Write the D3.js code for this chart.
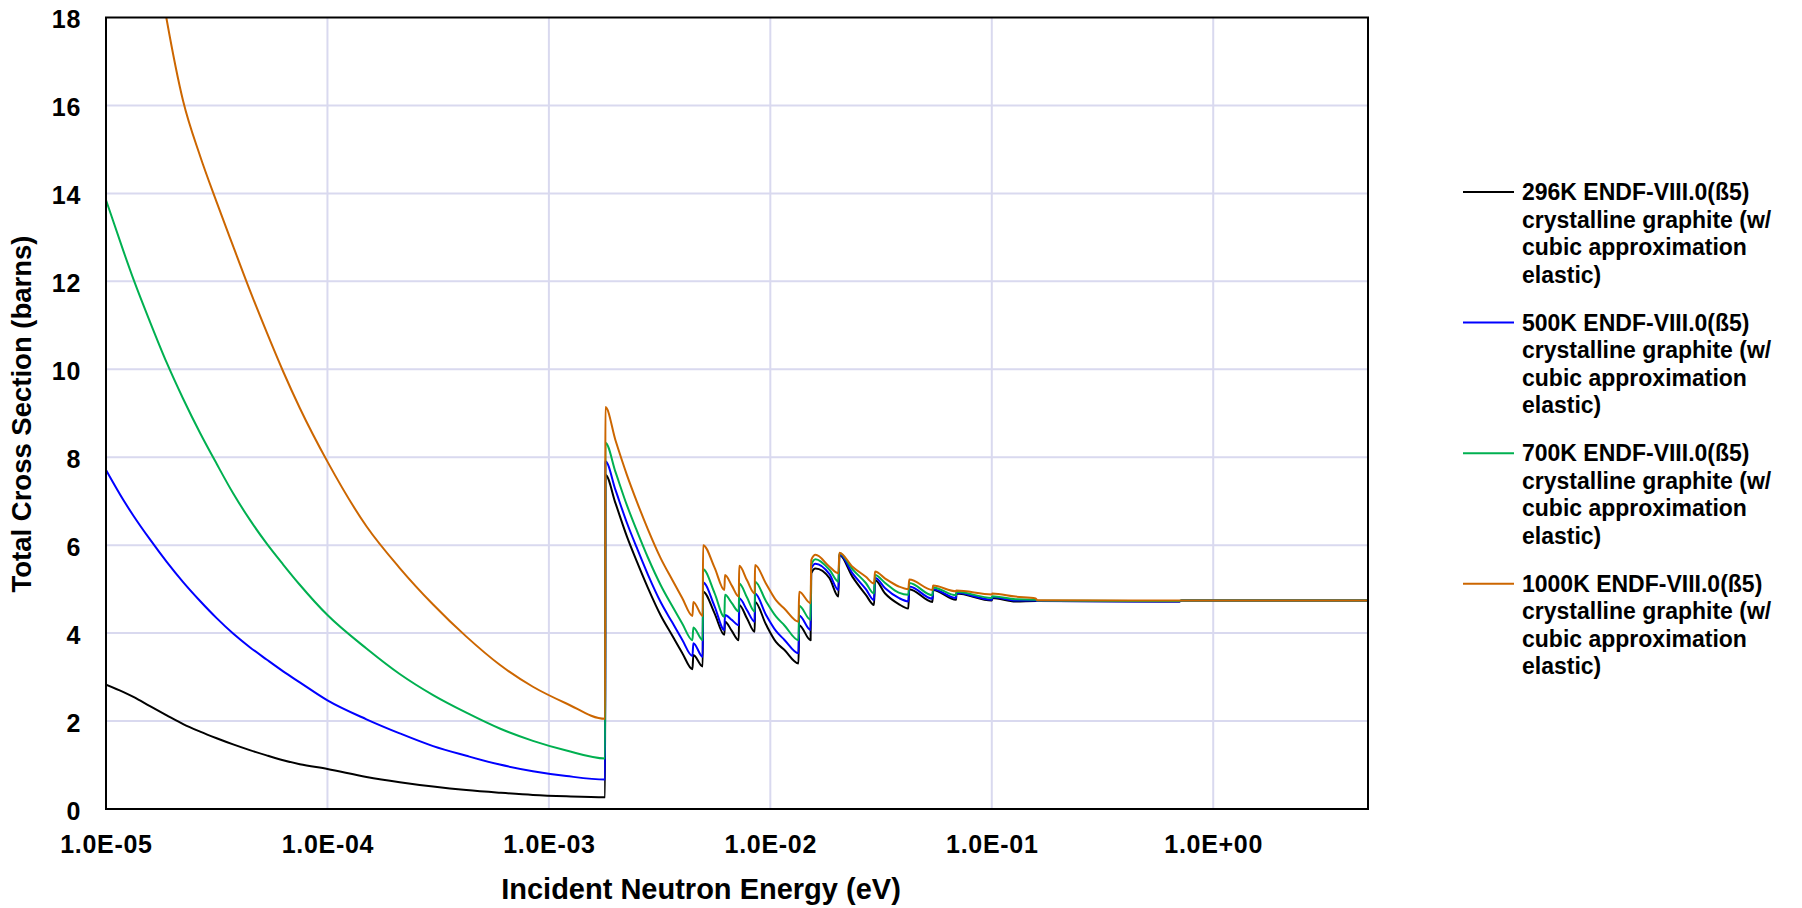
<!DOCTYPE html>
<html>
<head>
<meta charset="utf-8">
<script src="https://cdn.jsdelivr.net/npm/d3@7"></script>
<style>
  body { margin: 0; background: #fff; }
  text { font-family: "Liberation Sans", Arial, sans-serif; font-weight: bold; fill: #000; }
</style>
</head>
<body>
<div id="chart"></div>
<script>

// Energy grid (eV); close pairs are the Bragg edges (near-vertical jumps)
let energy = [
  1.0e-5, 1.2e-5, 1.33e-5, 1.58e-5, 1.88e-5, 2.23e-5, 2.66e-5, 3.16e-5, 3.75e-5, 4.46e-5, 5.31e-5, 6.31e-5, 7.5e-5,
  1.0e-4, 1.5e-4, 2.12e-4, 3.0e-4, 4.24e-4, 6.0e-4, 8.47e-4, 1.2e-3, 1.795e-3,
  1.8e-3, 2.0e-3, 2.25e-3, 2.5e-3, 2.8e-3, 3.2e-3, 3.6e-3, 4.0e-3, 4.45e-3,
  4.49e-3, 4.95e-3, 4.97e-3, 5.6e-3, 6.2e-3, 6.24e-3, 6.7e-3, 7.2e-3, 7.24e-3, 7.85e-3, 8.5e-3, 8.53e-3,
  9.55e-3, 1.06e-2, 1.156e-2, 1.34e-2, 1.35e-2, 1.52e-2, 1.53e-2, 1.6e-2, 1.85e-2, 2.03e-2, 2.05e-2,
  2.35e-2, 2.7e-2, 2.94e-2, 2.97e-2, 3.3e-2, 3.8e-2, 4.2e-2, 4.24e-2, 5.4e-2, 5.43e-2, 6.9e-2, 6.92e-2,
  0.1, 0.1005, 0.128, 0.158, 0.16, 0.7, 0.72, 5.0
];

// Total cross section (barns) for each temperature
let xs296 = [
  2.83, 2.66, 2.55, 2.34, 2.13, 1.93, 1.76, 1.61, 1.47, 1.34, 1.22, 1.11, 1.02,
  0.91, 0.73, 0.61, 0.51, 0.43, 0.37, 0.32, 0.29, 0.27,
  7.60, 6.95, 6.20, 5.62, 5.03, 4.40, 3.95, 3.55, 3.18,
  3.50, 3.24, 4.94, 4.45, 3.96, 4.26, 4.05, 3.84, 4.64, 4.33, 4.03, 4.71,
  4.20, 3.80, 3.62, 3.31, 4.18, 3.84, 5.36, 5.47, 5.25, 4.83, 5.78,
  5.28, 4.87, 4.64, 5.21, 4.90, 4.66, 4.56, 5.00, 4.71, 4.98, 4.76, 4.90,
  4.74, 4.80, 4.72, 4.73, 4.73, 4.72, 4.74, 4.74
];
let xs500 = [
  7.71, 7.02, 6.67, 6.13, 5.62, 5.16, 4.73, 4.34, 3.99, 3.68, 3.40, 3.13, 2.88,
  2.47, 2.04, 1.72, 1.43, 1.21, 1.01, 0.86, 0.75, 0.67,
  7.91, 7.25, 6.51, 5.93, 5.33, 4.70, 4.25, 3.85, 3.48,
  3.77, 3.46, 5.15, 4.61, 4.07, 4.41, 4.30, 4.18, 4.79, 4.52, 4.26, 4.90,
  4.42, 4.05, 3.85, 3.54, 4.40, 4.07, 5.47, 5.58, 5.34, 4.98, 5.80,
  5.36, 5.00, 4.75, 5.26, 5.02, 4.80, 4.72, 5.06, 4.78, 5.00, 4.80, 4.92,
  4.76, 4.82, 4.74, 4.74, 4.73, 4.72, 4.74, 4.74
];
let xs700 = [
  13.85, 12.68, 12.05, 11.08, 10.15, 9.33, 8.55, 7.85, 7.18, 6.58, 6.04, 5.56, 5.10,
  4.41, 3.65, 3.07, 2.59, 2.19, 1.83, 1.55, 1.33, 1.15,
  8.33, 7.66, 6.91, 6.32, 5.72, 5.09, 4.62, 4.22, 3.84,
  4.13, 3.84, 5.45, 4.91, 4.37, 4.87, 4.68, 4.49, 5.13, 4.81, 4.49, 5.17,
  4.73, 4.38, 4.18, 3.84, 4.62, 4.30, 5.55, 5.68, 5.44, 5.17, 5.82,
  5.45, 5.14, 4.90, 5.32, 5.14, 4.92, 4.87, 5.14, 4.86, 5.04, 4.86, 4.94,
  4.80, 4.84, 4.77, 4.76, 4.74, 4.73, 4.74, 4.74
];
let xs1000 = [
  26.5, 23.9, 22.4, 20.3, 17.95, 16.10, 14.85, 13.80, 12.80, 11.80, 10.85, 9.95, 9.12,
  7.90, 6.43, 5.48, 4.65, 3.92, 3.28, 2.78, 2.40, 2.05,
  9.14, 8.38, 7.60, 6.98, 6.36, 5.70, 5.22, 4.80, 4.39,
  4.71, 4.39, 6.00, 5.49, 4.98, 5.32, 5.08, 4.83, 5.53, 5.20, 4.90, 5.55,
  5.13, 4.75, 4.56, 4.26, 4.94, 4.68, 5.66, 5.78, 5.51, 5.36, 5.83,
  5.51, 5.28, 5.13, 5.40, 5.24, 5.06, 5.00, 5.22, 4.98, 5.08, 4.95, 4.97,
  4.88, 4.90, 4.83, 4.79, 4.75, 4.74, 4.74, 4.74
];

let seriesNames = [
  ["296K ENDF-VIII.0(ß5)", "crystalline graphite (w/", "cubic approximation", "elastic)"],
  ["500K ENDF-VIII.0(ß5)", "crystalline graphite (w/", "cubic approximation", "elastic)"],
  ["700K ENDF-VIII.0(ß5)", "crystalline graphite (w/", "cubic approximation", "elastic)"],
  ["1000K ENDF-VIII.0(ß5)", "crystalline graphite (w/", "cubic approximation", "elastic)"]
];
let seriesColors = ["#000000", "#0000ff", "#00b050", "#cc6600"];
let seriesValues = [xs296, xs500, xs700, xs1000];

let xTicks = [1e-5, 1e-4, 1e-3, 1e-2, 1e-1, 1e0];
let yTicks = [0, 2, 4, 6, 8, 10, 12, 14, 16, 18];

// SVG area
let svgWidth = 1802;
let svgHeight = 908;

let chartMargin = {
  top: 17.5,
  right: 434,
  bottom: 99,
  left: 106
};

let chartWidth = svgWidth - chartMargin.left - chartMargin.right;
let chartHeight = svgHeight - chartMargin.top - chartMargin.bottom;

let svg = d3.select("#chart")
  .append("svg")
  .attr("width", svgWidth)
  .attr("height", svgHeight);

let chartGroup = svg.append("g")
  .attr("transform", `translate(${chartMargin.left}, ${chartMargin.top})`);

// scales
let xLogScale = d3.scaleLog()
  .domain([1e-5, 5])
  .range([0, chartWidth]);

let yLinearScale = d3.scaleLinear()
  .domain([0, 18])
  .range([chartHeight, 0]);

function sciFormat(d) {
  let e = Math.round(Math.log10(d));
  return "1.0E" + (e < 0 ? "-" : "+") + String(Math.abs(e)).padStart(2, "0");
}

// gridlines
chartGroup.append("g")
  .selectAll("line.hgrid")
  .data(yTicks.slice(1, -1))
  .enter()
  .append("line")
  .attr("x1", 0)
  .attr("x2", chartWidth)
  .attr("y1", d => yLinearScale(d))
  .attr("y2", d => yLinearScale(d))
  .attr("stroke", "#d9d9ef")
  .attr("stroke-width", 2);

chartGroup.append("g")
  .selectAll("line.vgrid")
  .data(xTicks.slice(1))
  .enter()
  .append("line")
  .attr("x1", d => xLogScale(d))
  .attr("x2", d => xLogScale(d))
  .attr("y1", 0)
  .attr("y2", chartHeight)
  .attr("stroke", "#d9d9ef")
  .attr("stroke-width", 2);

// axes (labels only)
let bottomAxis = d3.axisBottom(xLogScale)
  .tickValues(xTicks)
  .tickFormat(sciFormat)
  .tickSize(0);

let leftAxis = d3.axisLeft(yLinearScale)
  .tickValues(yTicks)
  .tickFormat(d3.format("d"))
  .tickSize(0);

let xAxisG = chartGroup.append("g")
  .attr("transform", `translate(0, ${chartHeight})`)
  .call(bottomAxis);
xAxisG.select(".domain").remove();
xAxisG.selectAll("text")
  .attr("y", 43.5)
  .attr("dy", null)
  .attr("font-size", 25)
  .attr("letter-spacing", 0.7)
  .attr("font-family", null);

let yAxisG = chartGroup.append("g")
  .call(leftAxis);
yAxisG.select(".domain").remove();
yAxisG.selectAll("text")
  .attr("x", -25)
  .attr("dy", "0.4em")
  .attr("font-size", 25)
  .attr("letter-spacing", 0.7)
  .attr("font-family", null);

// clip the curves to the plot
svg.append("defs").append("clipPath")
  .attr("id", "plotClip")
  .append("rect")
  .attr("width", chartWidth)
  .attr("height", chartHeight);

let line = d3.line()
  .curve(d3.curveMonotoneX)
  .x(d => xLogScale(d.e))
  .y(d => yLinearScale(d.v));

chartGroup.append("g")
  .attr("clip-path", "url(#plotClip)")
  .selectAll("path")
  .data(seriesValues)
  .enter()
  .append("path")
  .attr("d", vals => line(energy.map((e, i) => ({e: e, v: vals[i]}))))
  .attr("fill", "none")
  .attr("stroke", (d, i) => seriesColors[i])
  .attr("stroke-width", 2)
  .attr("stroke-linejoin", "round");

// plot border
chartGroup.append("rect")
  .attr("width", chartWidth)
  .attr("height", chartHeight)
  .attr("fill", "none")
  .attr("stroke", "#000")
  .attr("stroke-width", 2);

// axis titles
svg.append("text")
  .attr("x", 701)
  .attr("y", 899)
  .attr("text-anchor", "middle")
  .attr("font-size", 29)
  .text("Incident Neutron Energy (eV)");

svg.append("text")
  .attr("transform", "translate(31, 414) rotate(-90)")
  .attr("text-anchor", "middle")
  .attr("font-size", 27.5)
  .text("Total Cross Section (barns)");

// legend
let legend = svg.append("g")
  .attr("transform", "translate(1463, 192)");

let legendItems = legend.selectAll("g")
  .data(seriesNames)
  .enter()
  .append("g")
  .attr("transform", (d, i) => `translate(0, ${i * 130.6})`);

legendItems.append("line")
  .attr("x1", 0)
  .attr("x2", 51)
  .attr("y1", 0)
  .attr("y2", 0)
  .attr("stroke", (d, i) => seriesColors[i])
  .attr("stroke-width", 2);

legendItems.append("text")
  .attr("x", 59)
  .attr("y", 8)
  .attr("font-size", 23)
  .selectAll("tspan")
  .data(d => d)
  .enter()
  .append("tspan")
  .attr("x", 59)
  .attr("dy", (d, i) => i === 0 ? 0 : 27.5)
  .text(d => d);

</script>
</body>
</html>
